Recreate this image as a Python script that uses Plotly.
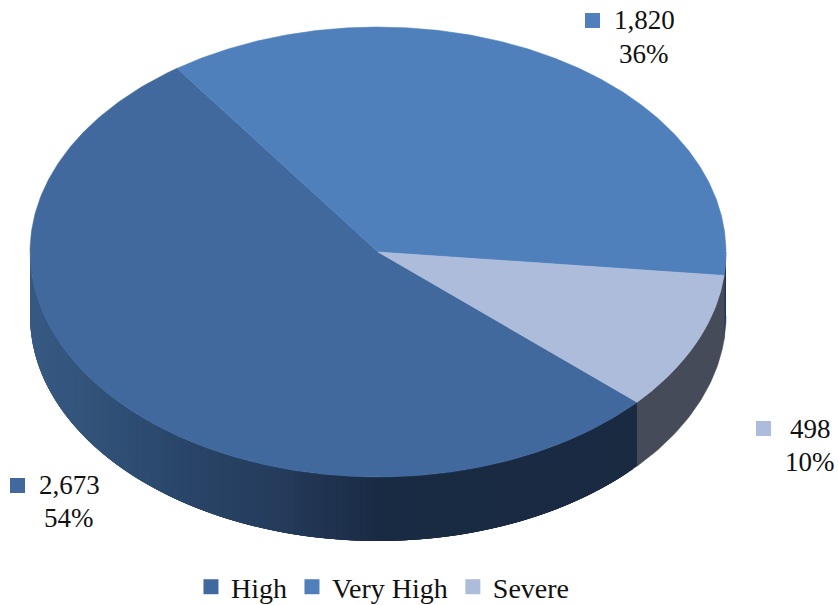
import numpy as np
import plotly.graph_objects as go

categories = ["High", "Very High", "Severe"]
values = [2673, 1820, 498]
top_colors = ["#41699d", "#4f80bc", "#adbcdb"]
severe_wall = "#454b58"
very_high_wall = "#1d3557"
gradient_x = [30, 100, 180, 280, 378, 838]
gradient_rgb = [(56, 90, 132), (50, 82, 120), (42, 70, 106), (37, 60, 92), (26, 43, 68), (25, 42, 64)]
label_squares = [(17.5, 485.5), (592.5, 20.5), (763.5, 428.5)]
label_centers = [(69, 485, 518), (644, 20, 54), (810, 429, 462)]

CX, CY, RX, RY, DEPTH = 378, 252, 348, 225, 64
START = 234.7  # clockwise from east: where "High" ends / "Very High" starts
total = sum(values)
sweep = {c: v / total * 360 for c, v in zip(categories, values)}

vh0 = START
vh1 = vh0 + sweep["Very High"]
sv1 = vh1 + sweep["Severe"]
hi1 = sv1 + sweep["High"]
spans = {"Very High": (vh0, vh1), "Severe": (vh1, sv1), "High": (sv1, hi1)}


def pt(a, drop=0):
    r = np.radians(a)
    return CX + RX * np.cos(r), CY + RY * np.sin(r) + drop


def wall(a0, a1, color):
    ts = np.linspace(a0, a1, 40)
    xs_t, ys_t = pt(ts)
    xs_b, ys_b = pt(ts[::-1], DEPTH)
    return go.Scatter(x=np.r_[xs_t, xs_b], y=np.r_[ys_t, ys_b], mode="lines", fill="toself",
                      fillcolor=color, line=dict(color=color, width=0.5), showlegend=False, hoverinfo="skip")


fig = go.Figure()

# front walls: each gradient band runs on under the next one so no seams show
fig.add_trace(wall(360, vh1, very_high_wall))
fig.add_trace(wall(vh1, sv1, severe_wall))
edges = np.r_[np.arange(sv1 - 360, 180, 1.0), 180]
for a0, a1 in zip(edges[:-1], edges[1:]):
    mx = pt((a0 + a1) / 2)[0]
    rgb = [np.interp(mx, gradient_x, [c[i] for c in gradient_rgb]) for i in range(3)]
    col = "rgb(%d,%d,%d)" % tuple(rgb)
    ts = np.linspace(a0, min(a1 + 3, 180), 8)
    xs_t, ys_t = pt(ts)
    xs_b, ys_b = pt(ts[::-1], DEPTH)
    fig.add_trace(go.Scatter(x=np.r_[xs_t, xs_b], y=np.r_[ys_t, ys_b], mode="lines", fill="toself",
                             fillcolor=col, line=dict(width=0), showlegend=False, hoverinfo="skip"))

# top faces
for cat, col in zip(categories, top_colors):
    a0, a1 = spans[cat]
    ts = np.linspace(a0, a1, 300)
    xs, ys = pt(ts)
    fig.add_trace(go.Scatter(x=np.r_[CX, xs, CX], y=np.r_[CY, ys, CY], mode="lines", fill="toself",
                             fillcolor=col, line=dict(color=col, width=0.5), showlegend=False, hoverinfo="skip"))

# data-label keys
for (sx, sy), col in zip(label_squares, top_colors):
    fig.add_trace(go.Scatter(x=[sx], y=[sy], mode="markers", showlegend=False, hoverinfo="skip",
                             marker=dict(symbol="square", size=15, color=col, line=dict(width=0))))

# legend entries
for cat, col in zip(categories, top_colors):
    fig.add_trace(go.Scatter(x=[None], y=[None], mode="markers", name=cat,
                             marker=dict(symbol="square", size=15, color=col, line=dict(width=0))))

FONT = "Liberation Serif"
annotations = []
for v, (cx, y1, y2) in zip(values, label_centers):
    for txt, y in ((f"{v:,}", y1), (f"{round(v / total * 100)}%", y2)):
        annotations.append(dict(x=cx, y=y, text=txt, showarrow=False, xanchor="center", yanchor="middle",
                                font=dict(family=FONT, size=27, color="#111111")))

fig.update_layout(
    width=838, height=605, margin=dict(l=0, r=0, t=0, b=0, autoexpand=False),
    paper_bgcolor="white", plot_bgcolor="white",
    xaxis=dict(range=[0, 838], visible=False, fixedrange=True),
    yaxis=dict(range=[605, 0], visible=False, fixedrange=True),
    annotations=annotations,
    showlegend=True,
    legend=dict(orientation="h", x=0.457, xanchor="center", y=0.0297, yanchor="middle",
                font=dict(family=FONT, size=28, color="#111111"), bgcolor="rgba(0,0,0,0)",
                itemclick=False, itemdoubleclick=False),
)
fig.write_html("out.html", config={"displayModeBar": False}, post_script="document.body.style.margin='0';")
